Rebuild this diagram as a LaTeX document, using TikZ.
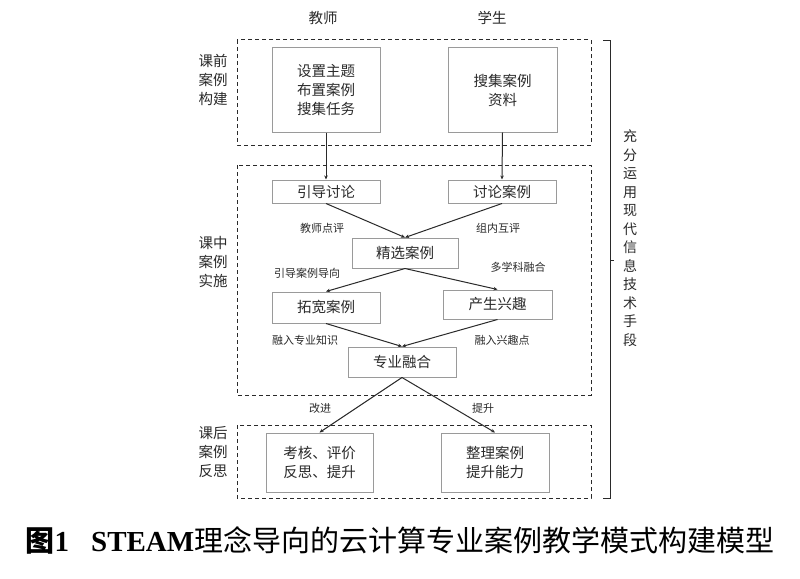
\documentclass[tikz,border=0pt]{standalone}
\usepackage{fontspec}
\setmainfont{Liberation Serif}
\newfontfamily\cjk{Noto Sans CJK SC}
\usetikzlibrary{arrows.meta}
\definecolor{txt}{HTML}{2A2A2A}
\definecolor{boxline}{HTML}{9A9A9A}
\begin{document}
\begin{tikzpicture}[x=1pt,y=-1pt,
  every node/.style={text=txt},
  box/.style={draw=boxline, line width=1pt, inner sep=0pt, align=center,
    font=\cjk\fontsize{14.5}{19}\selectfont},
  dbox/.style={draw=txt, line width=1pt, dash pattern=on 4pt off 3pt},
  conn/.style={draw=txt, line width=1pt, -{Stealth[length=4pt,width=3.5pt]}},
  lbl/.style={font=\cjk\fontsize{11}{13}\selectfont, inner sep=0pt},
  side/.style={font=\cjk\fontsize{14.5}{19}\selectfont, align=center, inner sep=0pt},
  head/.style={font=\cjk\fontsize{14.5}{17}\selectfont, inner sep=0pt}]
\useasboundingbox (0,0) rectangle (800,578);
\fill[white] (0,0) rectangle (800,578);

% headers
\node[head] (hT) at (323,18) {教师};
\node[head] (hS) at (492,18) {学生};

% dashed phase boxes
\draw[dbox] (237,40) rectangle (591,145);
\draw[dbox] (237,165) rectangle (591,395);
\draw[dbox] (237,425) rectangle (591,498);

% side labels
\node[side] (s1) at (213,80) {课前\\案例\\构建};
\node[side] (s2) at (213,262) {课中\\案例\\实施};
\node[side] (s3) at (213,452) {课后\\案例\\反思};

% boxes
\node[box, minimum width=108pt, minimum height=84pt] (b1) at (326,90) {设置主题\\布置案例\\搜集任务};
\node[box, minimum width=109pt, minimum height=84pt] (b2) at (502.5,90) {搜集案例\\资料};
\node[box, minimum width=108pt, minimum height=23pt] (yd) at (326,191.5) {引导讨论};
\node[box, minimum width=108pt, minimum height=23pt] (tl) at (502,191.5) {讨论案例};
\node[box, minimum width=106pt, minimum height=30pt] (jx) at (405,253) {精选案例};
\node[box, minimum width=108pt, minimum height=31pt] (tk) at (326,307.5) {拓宽案例};
\node[box, minimum width=109pt, minimum height=29pt] (cs) at (497.5,304.5) {产生兴趣};
\node[box, minimum width=108pt, minimum height=30pt] (zy) at (402,362) {专业融合};
\node[box, minimum width=107pt, minimum height=59pt] (kh) at (319.5,462.5) {考核、评价\\反思、提升};
\node[box, minimum width=108pt, minimum height=59pt] (zl) at (495,462.5) {整理案例\\提升能力};

% connectors
\draw[conn] (b1.south) -- (yd.north);
\draw[conn] (b2.south) -- (tl.north);
\draw[conn] (yd.south) -- (jx.north);
\draw[conn] (tl.south) -- (jx.north);
\draw[conn] (jx.south) -- (tk.north);
\draw[conn] (jx.south) -- (cs.north);
\draw[conn] (tk.south) -- (zy.north);
\draw[conn] (cs.south) -- (zy.north);
\draw[conn] (zy.south) -- (kh.north);
\draw[conn] (zy.south) -- (zl.north);

% connector labels
\node[lbl] (l1) at (322,228) {教师点评};
\node[lbl] (l2) at (498,228) {组内互评};
\node[lbl] (l3) at (307,273) {引导案例导向};
\node[lbl] (l4) at (518,267) {多学科融合};
\node[lbl] (l5) at (305,340) {融入专业知识};
\node[lbl] (l6) at (502,340) {融入兴趣点};
\node[lbl] (l7) at (320,408) {改进};
\node[lbl] (l8) at (483,408) {提升};

% bracket
\coordinate (bt) at (603,40);
\coordinate (bb) at (603,498);
\draw[txt, line width=0.9pt] (bt) -- (610,40) -- (610,498) -- (bb);
\draw[txt, line width=0.9pt] (610,260) -- (614,260);
\node[font=\cjk\fontsize{14}{18.5}\selectfont, align=center, inner sep=0pt] (vt) at (630,238)
  {充\\分\\运\\用\\现\\代\\信\\息\\技\\术\\手\\段};

% caption
\node[inner sep=0pt, text=black] (cap) at (400,540)
  {\fontsize{29}{32}\selectfont{\cjk\bfseries 图}{\bfseries 1}\hspace{22pt}{\bfseries STEAM}{\cjk 理念导向的云计算专业案例教学模式构建模型}};
\end{tikzpicture}
\end{document}
